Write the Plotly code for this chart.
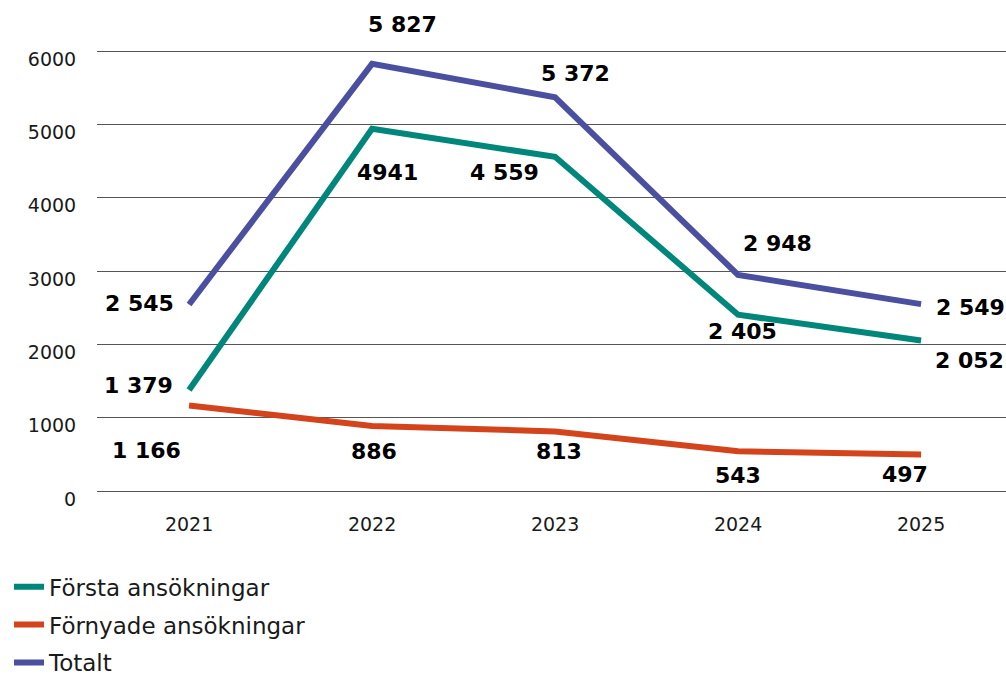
import plotly.graph_objects as go

years = ["2021", "2022", "2023", "2024", "2025"]
forsta = [1379, 4941, 4559, 2405, 2052]
fornyade = [1166, 886, 813, 543, 497]
totalt = [2545, 5827, 5372, 2948, 2549]

forsta_labels = ["1 379", "4941", "4 559", "2 405", "2 052"]
fornyade_labels = ["1 166", "886", "813", "543", "497"]
totalt_labels = ["2 545", "5 827", "5 372", "2 948", "2 549"]

y_ticks = [0, 1000, 2000, 3000, 4000, 5000, 6000]

FONT = "DejaVu Sans, Verdana, sans-serif"

# label offsets in pixels (dx, dy) relative to each point
series = [
    ("Första ansökningar", forsta, forsta_labels, "#00867a",
     [(-51, 4), (15, -44), (-51, -16), (4, -17), (48, -20)]),
    ("Förnyade ansökningar", fornyade, fornyade_labels, "#d4441c",
     [(-43, -45), (2, -25), (4, -20), (0, -24), (-16, -20)]),
    ("Totalt", totalt, totalt_labels, "#4b4fa0",
     [(-50, 1), (30, 39), (20, 24), (39, 31), (49, -3)]),
]

x_pos = list(range(len(years)))

fig = go.Figure()
for name, vals, labels, color, offsets in series:
    fig.add_trace(go.Scatter(x=x_pos, y=vals, mode="lines", name=name,
                             line=dict(color=color, width=6),
                             legendgroup=name, hoverinfo="skip"))
    for x, v, lab, (dx, dy) in zip(x_pos, vals, labels, offsets):
        fig.add_annotation(x=x, y=v, xref="x", yref="y",
                           text="<b>" + lab + "</b>", showarrow=False,
                           xshift=dx, yshift=dy,
                           font=dict(family=FONT, size=22, color="#000"))

fig.update_layout(
    width=1006, height=676,
    margin=dict(l=97, r=0, t=49, b=185, autoexpand=False),
    paper_bgcolor="white", plot_bgcolor="white",
    font=dict(family=FONT, size=19, color="#1a1a1a"),
    showlegend=True,
    legend=dict(orientation="v", x=-0.0968, y=-0.168, xanchor="left", yanchor="top",
                font=dict(family=FONT, size=23, color="#1a1a1a"),
                tracegroupgap=5),
    xaxis=dict(range=[-0.503, 4.464], tickvals=x_pos, ticktext=years,
               showgrid=False, showline=False, zeroline=False,
               ticks="outside", ticklen=16, tickcolor="rgba(0,0,0,0)",
               tickfont=dict(size=19)),
    yaxis=dict(range=[0, 6030], tickvals=y_ticks,
               showgrid=True, gridcolor="#555", gridwidth=1,
               zeroline=True, zerolinecolor="#555", zerolinewidth=1,
               showline=False, ticks="outside", ticklen=16,
               tickcolor="rgba(0,0,0,0)", ticklabelshift=8,
               tickfont=dict(size=19)),
)

fig.write_html("out.html", config={"displayModeBar": False},
               post_script="document.body.style.margin='0';")
